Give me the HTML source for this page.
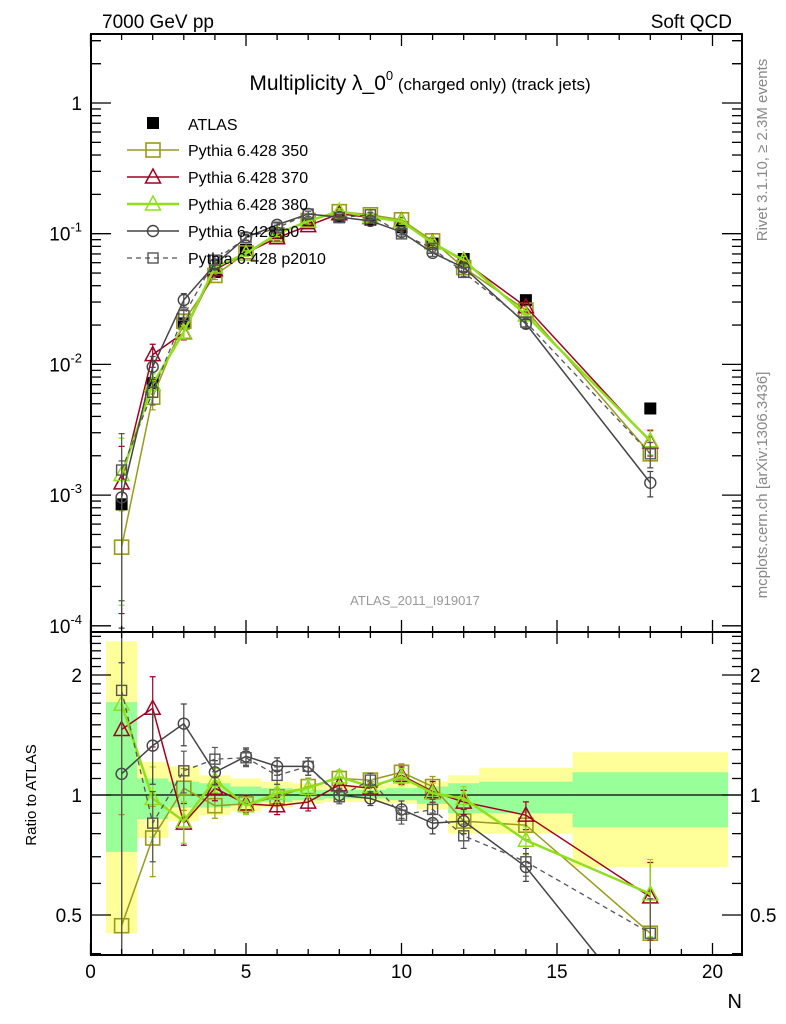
<!DOCTYPE html>
<html><head><meta charset="utf-8"><style>
html,body{margin:0;padding:0;background:#fff;width:786px;height:1024px;overflow:hidden;}
svg{display:block;font-family:"Liberation Sans",sans-serif;}
</style></head><body>
<svg id="c" width="786" height="1024" viewBox="0 0 786 1024">
<defs>
<clipPath id="cm"><rect x="91" y="34" width="651" height="598"/></clipPath>
<clipPath id="cr"><rect x="91" y="632" width="651" height="323"/></clipPath>
</defs>
<g id="bands" clip-path="url(#cr)"></g>
<line x1="91" y1="795" x2="742" y2="795" stroke="#000" stroke-width="1.2"/>
<g id="marks"></g>
<g id="axes"></g>
<text x="102" y="28" font-size="19">7000 GeV pp</text>
<text x="732" y="28" font-size="19" text-anchor="end">Soft QCD</text>
<text x="420" y="90" font-size="21" text-anchor="middle">Multiplicity λ_0<tspan font-size="13" dy="-10">0</tspan><tspan font-size="17" dy="10"> (charged only) (track jets)</tspan></text>
<text x="415" y="605" font-size="13" fill="#999" text-anchor="middle">ATLAS_2011_I919017</text>
<text transform="translate(767,150) rotate(-90)" font-size="15" fill="#888" text-anchor="middle">Rivet 3.1.10, ≥ 2.3M events</text>
<text transform="translate(767,485) rotate(-90)" font-size="15" fill="#888" text-anchor="middle">mcplots.cern.ch [arXiv:1306.3436]</text>
<text transform="translate(36,795) rotate(-90)" font-size="15" text-anchor="middle">Ratio to ATLAS</text>
<text x="742" y="1008" font-size="20" text-anchor="end">N</text>
<g id="legend"></g>
</svg>
<script>
const N = [1,2,3,4,5,6,7,8,9,10,11,12,14,18];
const binLo = [0.5,1.5,2.5,3.5,4.5,5.5,6.5,7.5,8.5,9.5,10.5,11.5,12.5,15.5];
const binHi = [1.5,2.5,3.5,4.5,5.5,6.5,7.5,8.5,9.5,10.5,11.5,12.5,15.5,20.5];
const atlas = [0.00085,0.0072,0.0206,0.051,0.075,0.099,0.12,0.134,0.128,0.112,0.084,0.064,0.031,0.0046];
const totUp = [2.43,1.21,1.18,1.12,1.10,1.08,1.07,1.06,1.06,1.07,1.08,1.12,1.17,1.28];
const totDn = [0.45,0.78,0.86,0.89,0.91,0.93,0.95,0.96,0.96,0.95,0.92,0.80,0.80,0.66];
const statUp = [1.71,1.10,1.08,1.07,1.05,1.04,1.03,1.03,1.03,1.04,1.05,1.07,1.08,1.14];
const statDn = [0.72,0.87,0.93,0.93,0.95,0.96,0.97,0.98,0.98,0.97,0.95,0.90,0.90,0.83];
const r350 = [0.47,0.78,1.04,0.94,0.95,0.99,1.05,1.10,1.09,1.14,1.05,0.86,0.84,0.45];
const r370 = [1.46,1.65,0.85,1.04,0.95,0.94,0.96,1.06,1.04,1.12,1.02,0.96,0.89,0.555];
const r380 = [1.69,0.98,0.86,1.09,0.94,1.01,1.04,1.11,1.05,1.11,1.01,0.98,0.77,0.565];
const rp0 = [1.13,1.33,1.51,1.14,1.25,1.18,1.18,1.00,0.98,0.92,0.85,0.86,0.66,0.27];
const rp2010 = [1.83,0.85,1.15,1.23,1.24,1.12,1.18,0.99,1.09,0.89,0.92,0.79,0.68,0.45];
const mcErr = [0.9,0.2,0.12,0.07,0.05,0.05,0.05,0.04,0.04,0.05,0.06,0.07,0.08,0.22];

const NS='http://www.w3.org/2000/svg';
const X = v => 90.5 + 31.1*v;
const YM = v => 103 - 130.7*Math.log10(v);
const YR = r => 795 - 120*Math.log2(r);
const clamp=(y,a,b)=>Math.max(a,Math.min(b,y));
function mk(tag, attrs, parent){const e=document.createElementNS(NS,tag);for(const k in attrs)e.setAttribute(k,attrs[k]);parent.appendChild(e);return e;}
const bands=document.getElementById('bands'), marks=document.getElementById('marks'), axes=document.getElementById('axes'), leg=document.getElementById('legend');

for(let i=0;i<N.length;i++){
  const r1=mk('rect',{x:X(binLo[i]),y:YR(totUp[i]),width:X(binHi[i])-X(binLo[i]),height:YR(totDn[i])-YR(totUp[i]),fill:'#ffff99'},bands);
  
  
}
for(let i=0;i<N.length;i++){
  const r2=mk('rect',{x:X(binLo[i]),y:YR(statUp[i]),width:X(binHi[i])-X(binLo[i]),height:YR(statDn[i])-YR(statUp[i]),fill:'#99ff99'},bands);
  
  
}

const series=[
 {name:'Pythia 6.428 350',key:'350',r:r350,col:'#9a9a1c',w:1.5,dash:'',m:'sq'},
 {name:'Pythia 6.428 370',key:'370',r:r370,col:'#a00022',w:1.5,dash:'',m:'tri'},
 {name:'Pythia 6.428 380',key:'380',r:r380,col:'#8fe01c',w:2.5,dash:'',m:'tri'},
 {name:'Pythia 6.428 p0',key:'p0',r:rp0,col:'#444',w:1.5,dash:'',m:'circ'},
 {name:'Pythia 6.428 p2010',key:'p2010',r:rp2010,col:'#555',w:1.3,dash:'5,4',m:'sq2'}
];
function marker(type,x,y,col,g){
  let e;
  if(type==='sq') e=mk('rect',{x:x-7,y:y-7,width:14,height:14,fill:'none',stroke:col,'stroke-width':1.6},g);
  else if(type==='sq2') e=mk('rect',{x:x-5,y:y-5,width:10,height:10,fill:'none',stroke:col,'stroke-width':1.4},g);
  else if(type==='tri') e=mk('path',{d:`M${x},${y-8}L${x+7.5},${y+6}L${x-7.5},${y+6}Z`,fill:'none',stroke:col,'stroke-width':1.5},g);
  else e=mk('circle',{cx:x,cy:y,r:5.5,fill:'none',stroke:col,'stroke-width':1.4},g);
  return e;
}
function drawPanel(clip,Y,valFn,panel,top,bot){
  const g=mk('g',{'clip-path':`url(#${clip})`},marks);
  
  
  series.forEach(s=>{
    const sg=mk('g',{},g);
    
    
    const pts=N.map((n,i)=>[X(n),Y(valFn(s,i))]);
    const ln=mk('polyline',{points:pts.map(p=>p.join(',')).join(' '),fill:'none',stroke:s.col,'stroke-width':s.w,'stroke-dasharray':s.dash},sg);
    
    
    N.forEach((n,i)=>{
      const v=valFn(s,i), x=X(n);
      const up=clamp(Y(v*(1+mcErr[i])),top,bot), dn=clamp(Y(v*Math.max(0.01,1-mcErr[i])),top,bot);
      const eb=mk('path',{d:`M${x},${up}V${dn}M${x-3},${up}h6M${x-3},${dn}h6`,stroke:s.col,'stroke-width':1.2,fill:'none'},sg);
      
      
      const yv=Y(v);
      if(yv>top-10 && yv<bot+10){
        const mm=marker(s.m,x,yv,s.col,sg);
        
        
      }
    });
  });
}
const dg=mk('g',{'clip-path':'url(#cm)'},marks);


N.forEach((n,i)=>{
  const p=mk('rect',{x:X(n)-6,y:YM(atlas[i])-6,width:12,height:12,fill:'#000'},dg);
  
  
});
drawPanel('cm',YM,(s,i)=>atlas[i]*s.r[i],'main',34,632);
drawPanel('cr',YR,(s,i)=>s.r[i],'ratio',632,955);

[[34,632],[632,955]].forEach(([t,b],k)=>{
  const f=mk('rect',{x:91,y:t,width:651,height:b-t,fill:'none',stroke:'#000','stroke-width':2},axes);
  
  
});
for(let v=0;v<=20.9;v+=1){
  const major=v%5===0, L=major?12:6;
  [[34,1],[632,-1],[632,1],[955,-1]].forEach(([y,d])=>{
    const t=mk('line',{x1:X(v),x2:X(v),y1:y,y2:y+d*L,stroke:'#000','stroke-width':1.3},axes);
    
    
  });
  if(major){
    const tl=mk('text',{x:X(v),y:978,'font-size':19,'text-anchor':'middle'},axes);
    tl.textContent=v;
    
    
  }
}
for(let e=-4;e<=0;e++){
  for(let m=1;m<10;m++){
    const v=m*Math.pow(10,e), y=YM(v);
    if(y<34||y>632) continue;
    const L=m===1?20:10;
    [[91,1],[742,-1]].forEach(([x,d])=>{
      const t=mk('line',{x1:x,x2:x+d*L,y1:y,y2:y,stroke:'#000','stroke-width':1.3},axes);
      
      
    });
    if(m===1){
      const tl=mk('text',{x:82,y:y+7,'font-size':19,'text-anchor':'end'},axes);
      if(e===0){tl.textContent='1';}
      else{tl.textContent='10';const sp=mk('tspan',{'font-size':13,dy:-9},tl);sp.textContent=String(e);}
      
      
    }
  }
}
[2,3].forEach(m=>{const y=YM(m);[[91,1],[742,-1]].forEach(([x,d])=>{const t=mk('line',{x1:x,x2:x+d*10,y1:y,y2:y,stroke:'#000','stroke-width':1.3},axes);});});
const ratioTicks=[0.4,0.5,0.6,0.7,0.8,0.9,1,1.1,1.2,1.3,1.4,1.5,1.6,1.7,1.8,1.9,2,2.1,2.2,2.3,2.4,2.5];
const ratioLabels=[0.5,1,2];
ratioTicks.forEach(r=>{
  const y=YR(r); if(y<632||y>955) return;
  const major=ratioLabels.includes(r), L=major?20:10;
  [[91,1],[742,-1]].forEach(([x,d])=>{
    const t=mk('line',{x1:x,x2:x+d*L,y1:y,y2:y,stroke:'#000','stroke-width':1.3},axes);
    
    
  });
});
ratioLabels.forEach(r=>{
  [[82,'end'],[750,'start']].forEach(([x,a])=>{
    const tl=mk('text',{x:x,y:YR(r)+7,'font-size':19,'text-anchor':a},axes);
    tl.textContent=r;
    
    
  });
});
const la=mk('rect',{x:147,y:117,width:12,height:12,fill:'#000'},leg);


const lt=mk('text',{x:188,y:130,'font-size':16},leg);
lt.textContent='ATLAS';


series.forEach((s,k)=>{
  const y=150+27*k;
  const l=mk('line',{x1:127,x2:179,y1:y,y2:y,stroke:s.col,'stroke-width':s.w,'stroke-dasharray':s.dash},leg);
  
  
  const mm=marker(s.m,153,y,s.col,leg);
  
  
  const t=mk('text',{x:188,y:y+6,'font-size':16},leg);
  t.textContent=s.name;
  
  
});
</script>
</body></html>
